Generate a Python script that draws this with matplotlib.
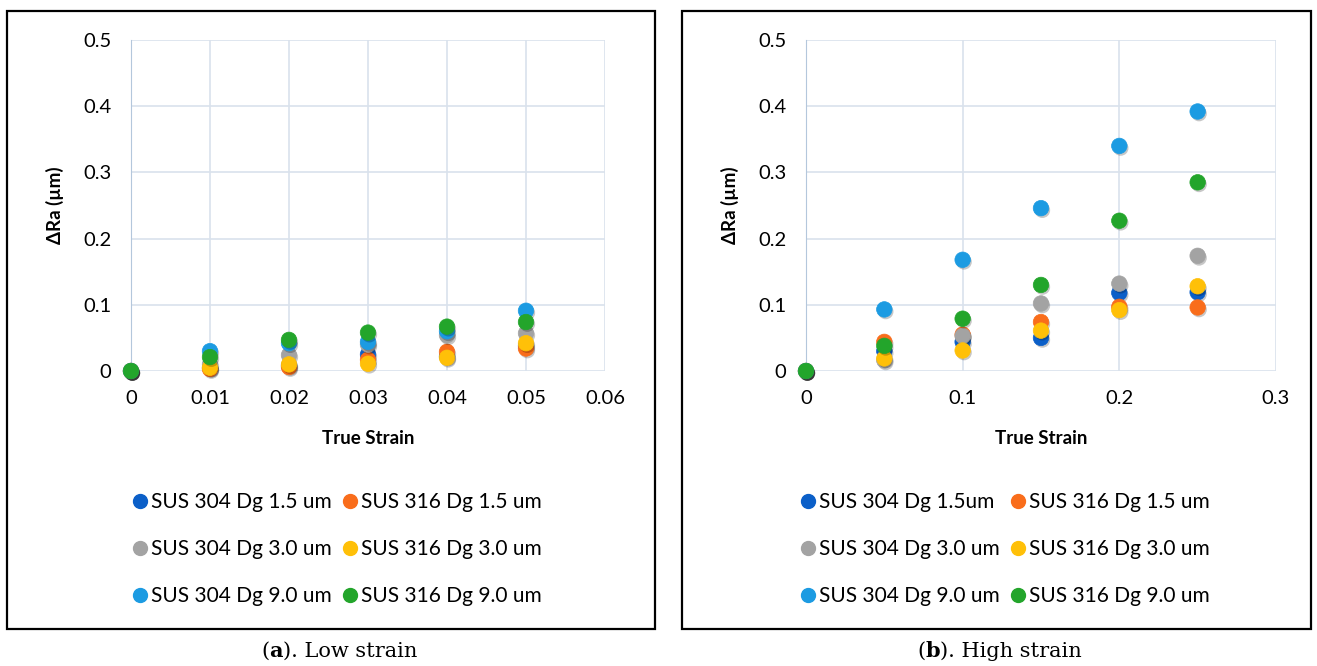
import matplotlib
matplotlib.use('Agg')
import matplotlib.pyplot as plt
import matplotlib.patheffects as pe
from matplotlib.patches import Rectangle
from matplotlib.lines import Line2D
from matplotlib.ticker import FuncFormatter

plt.rcParams['font.family'] = ['Lato', 'DejaVu Sans']

# series names (Excel order) and colours
names_a = ['SUS 304 Dg 1.5 um', 'SUS 316 Dg 1.5 um', 'SUS 304 Dg 3.0 um',
           'SUS 316 Dg 3.0 um', 'SUS 304 Dg 9.0 um', 'SUS 316 Dg 9.0 um']
names_b = ['SUS 304 Dg 1.5um', 'SUS 316 Dg 1.5 um', 'SUS 304 Dg 3.0 um',
           'SUS 316 Dg 3.0 um', 'SUS 304 Dg 9.0 um', 'SUS 316 Dg 9.0 um']
colors = ['#0B5FC8', '#F96D1B', '#A3A3A3', '#FFC008', '#1C9BE2', '#23A52B']

# (a) low strain
strain_a = [0, 0.01, 0.02, 0.03, 0.04, 0.05]
ra_a = [
    [0, 0.005, 0.008, 0.025, 0.022, 0.038],   # 304 1.5
    [0, 0.003, 0.006, 0.017, 0.029, 0.034],   # 316 1.5
    [0, 0.010, 0.024, 0.040, 0.054, 0.057],   # 304 3.0
    [0, 0.005, 0.010, 0.011, 0.020, 0.042],   # 316 3.0
    [0, 0.030, 0.042, 0.044, 0.060, 0.091],   # 304 9.0
    [0, 0.021, 0.047, 0.058, 0.067, 0.074],   # 316 9.0
]

# (b) high strain
strain_b = [0, 0.05, 0.1, 0.15, 0.2, 0.25]
ra_b = [
    [0, 0.030, 0.044, 0.050, 0.118, 0.119],
    [0, 0.044, 0.055, 0.074, 0.097, 0.096],
    [0, 0.016, 0.053, 0.102, 0.132, 0.174],
    [0, 0.019, 0.031, 0.061, 0.092, 0.128],
    [0, 0.093, 0.168, 0.246, 0.340, 0.392],
    [0, 0.038, 0.079, 0.130, 0.227, 0.285],
]

W, H = 1317, 666
fig = plt.figure(figsize=(W / 100, H / 100), dpi=100)

# panel frames
for x0, x1 in [(7, 655), (682, 1311)]:
    fig.patches.append(Rectangle((x0 / W, 1 - 629 / H), (x1 - x0) / W, 618 / H,
                                 transform=fig.transFigure, fill=False,
                                 edgecolor='black', linewidth=1.6))

shadow = [pe.SimplePatchShadow(offset=(1, -1.5), alpha=0.22, shadow_rgbFace='black'),
          pe.Normal()]


def panel(left, right, strain, data, names, xmax, xstep, leg_cx, caption_x, tag, caption):
    ax = fig.add_axes([left / W, 1 - 371 / H, (right - left) / W, 331 / H])
    for vals, col, nm in zip(data, colors, names):
        sc = ax.scatter(strain, vals, s=125, color=col, edgecolors=col,
                        linewidths=0.5, zorder=3, clip_on=False)
        sc.set_path_effects(shadow)
    ax.set_xlim(0, xmax)
    ax.set_ylim(0, 0.5)
    ax.set_xticks([i * xstep for i in range(int(round(xmax / xstep)) + 1)])
    ax.set_yticks([0, 0.1, 0.2, 0.3, 0.4, 0.5])
    fmt = FuncFormatter(lambda v, p: '%g' % round(v, 4))
    ax.xaxis.set_major_formatter(fmt)
    ax.yaxis.set_major_formatter(fmt)
    ax.grid(True, color='#D9E2EC', linewidth=1.2)
    ax.set_axisbelow(True)
    for s in ['top', 'right', 'bottom']:
        ax.spines[s].set_visible(False)
    ax.spines['left'].set_color('#B4C7DC')
    ax.tick_params(length=0, labelsize=14.5, pad=14)
    ax.set_xlabel('True Strain', fontsize=13.5, fontweight='bold', labelpad=16)
    ax.set_ylabel('ΔRa (µm)', fontsize=13.5, fontweight='bold', labelpad=14)

    handles = [Line2D([], [], linestyle='none', marker='o', markersize=10,
                      color=c, markeredgecolor=c) for c in colors]
    idx = [0, 2, 4, 1, 3, 5]
    fig.legend([handles[i] for i in idx], [names[i] for i in idx], ncol=2,
               loc='center', bbox_to_anchor=(leg_cx / W, 1 - 549 / H),
               frameon=False, fontsize=15, handletextpad=0.0,
               columnspacing=0.3, labelspacing=1.3, handlelength=1.1)

    t1 = fig.text(caption_x / W, 1 - 651 / H, '(', ha='left', va='center',
                  fontsize=15, family='DejaVu Serif')
    t2 = fig.text(0, 0, tag, ha='left', va='center', fontsize=15,
                  family='DejaVu Serif', fontweight='bold',
                  transform=t1.get_transform())
    fig.canvas.draw()
    bb = t1.get_window_extent()
    t2.set_transform(fig.transFigure)
    t2.set_position((bb.x1 / W, 1 - 651 / H))
    bb2 = t2.get_window_extent()
    fig.text(bb2.x1 / W, 1 - 651 / H, caption, ha='left', va='center',
             fontsize=15, family='DejaVu Serif')
    return ax


panel(131, 605, strain_a, ra_a, names_a, 0.06, 0.01, 335, 261, 'a', '). Low strain')
panel(806, 1276, strain_b, ra_b, names_b, 0.3, 0.1, 1003, 917, 'b', '). High strain')

fig.savefig('out.png', dpi=100)
